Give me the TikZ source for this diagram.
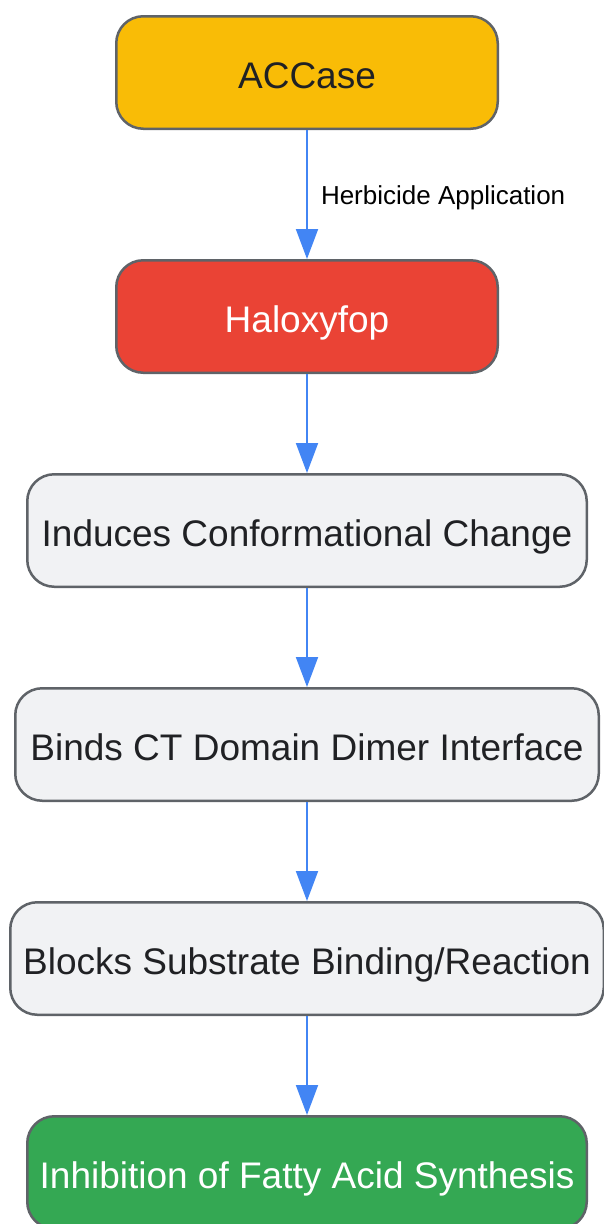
\documentclass[tikz,border=0pt]{standalone}
\usepackage{fontspec}
\setmainfont{Liberation Sans}
\usetikzlibrary{arrows.meta}

\definecolor{accyellow}{HTML}{F9BC06}
\definecolor{haloxred}{HTML}{EA4335}
\definecolor{steplight}{HTML}{F1F2F4}
\definecolor{resultgreen}{HTML}{34A853}
\definecolor{boxline}{HTML}{5F6368}
\definecolor{textdark}{HTML}{202124}
\definecolor{arrowblue}{HTML}{4285F4}

\begin{document}
\begin{tikzpicture}[x=1pt,y=-1pt,
    box/.style={draw=boxline, line width=2.5pt, rounded corners=27pt,
        minimum height=112.5pt, inner sep=0pt, text=textdark,
        text height=36pt, text depth=5pt,
        font=\fontsize{37}{44}\selectfont},
    flow/.style={draw=arrowblue, line width=2pt,
        -{Triangle[length=30pt,width=22pt]}}]
    \useasboundingbox (0,0) rectangle (603,1224);
    % boxes
    \node[box, fill=accyellow, minimum width=381.5pt] (accase) at (307,72.5) {ACCase};
    \node[box, fill=haloxred, text=white, minimum width=381.5pt] (halox) at (307,316.5) {Haloxyfop};
    \node[box, fill=steplight, minimum width=559.5pt] (induces) at (307,530.5) {Induces Conformational Change};
    \node[box, fill=steplight, minimum width=583.5pt] (binds) at (307,744.5) {Binds CT Domain Dimer Interface};
    \node[box, fill=steplight, minimum width=593.5pt] (blocks) at (307,958.5) {Blocks Substrate Binding/Reaction};
    \node[box, fill=resultgreen, text=white, minimum width=559.5pt] (inhib) at (307,1172.5) {Inhibition of Fatty Acid Synthesis};
    % arrows
    \draw[flow] (accase) -- node[anchor=west, xshift=13pt, yshift=-3pt, inner sep=0pt, text=black,
        font=\fontsize{26}{30}\selectfont] {Herbicide Application} (halox);
    \draw[flow] (halox) -- (induces);
    \draw[flow] (induces) -- (binds);
    \draw[flow] (binds) -- (blocks);
    \draw[flow] (blocks) -- (inhib);
\end{tikzpicture}
\end{document}
